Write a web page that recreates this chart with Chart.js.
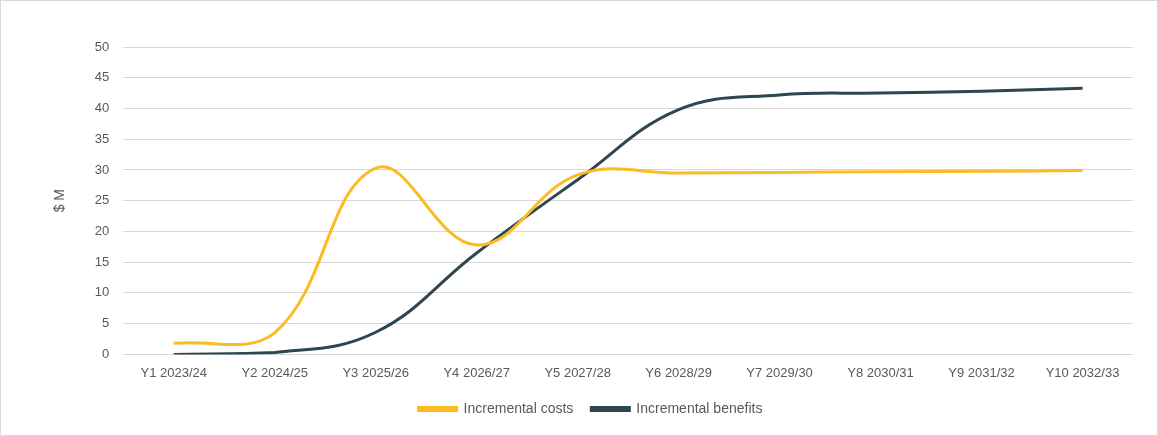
<!DOCTYPE html>
<html lang="en">
<head>
  <meta charset="UTF-8">
  <title>Incremental costs and benefits</title>
  <style>
    html, body { margin: 0; padding: 0; background: #fff; }
    .wrap { position: relative; width: 1156px; height: 434px; border: 1px solid #d9d9d9; }
  </style>
</head>
<body>
  <div class="wrap">
    <canvas id="grafico"></canvas>
  </div>

  <script src="https://cdn.jsdelivr.net/npm/chart.js"></script>

  <script>
    const years = ["Y1 2023/24", "Y2 2024/25", "Y3 2025/26", "Y4 2026/27", "Y5 2027/28",
                   "Y6 2028/29", "Y7 2029/30", "Y8 2030/31", "Y9 2031/32", "Y10 2032/33"];
    const costs = [1.8, 3.5, 30.3, 17.8, 29.2, 29.5, 29.6, 29.7, 29.8, 29.9];
    const benefits = [0, 0.3, 3.6, 16.5, 28.4, 39.8, 42.2, 42.5, 42.8, 43.3];

    const grey = "#595959";

    new Chart(document.getElementById("grafico"), {
      type: "line",
      data: {
        labels: years,
        datasets: [
          {
            label: "Incremental costs",
            data: costs,
            borderColor: "#FBBB21",
            backgroundColor: "#FBBB21",
            borderWidth: 3,
            pointRadius: 0,
            tension: 0.4
          },
          {
            label: "Incremental benefits",
            data: benefits,
            borderColor: "#2F4550",
            backgroundColor: "#2F4550",
            borderWidth: 3,
            pointRadius: 0,
            tension: 0.4
          }
        ]
      },
      options: {
        responsive: true,
        maintainAspectRatio: false,
        animation: false,
        layout: { padding: { left: 47, right: 24, top: 46, bottom: 9 } },
        plugins: {
          legend: {
            position: "bottom",
            labels: {
              color: grey,
              font: { family: "Liberation Sans", size: 14 },
              boxWidth: 38,
              boxHeight: 3,
              padding: 18
            }
          },
          tooltip: { enabled: false }
        },
        scales: {
          x: {
            offset: true,
            grid: { display: false },
            border: { display: false },
            ticks: {
              color: grey,
              font: { family: "Liberation Sans", size: 13 },
              maxRotation: 0,
              padding: 3
            }
          },
          y: {
            min: 0,
            max: 50,
            grid: { color: "#d9d9d9", drawTicks: false },
            border: { display: false },
            ticks: {
              stepSize: 5,
              color: grey,
              font: { family: "Liberation Sans", size: 13 },
              padding: 14
            },
            title: {
              display: true,
              text: "$ M",
              color: grey,
              font: { family: "Liberation Sans", size: 14 },
              padding: { top: 4, bottom: 12 }
            }
          }
        }
      }
    });
  </script>
</body>
</html>
